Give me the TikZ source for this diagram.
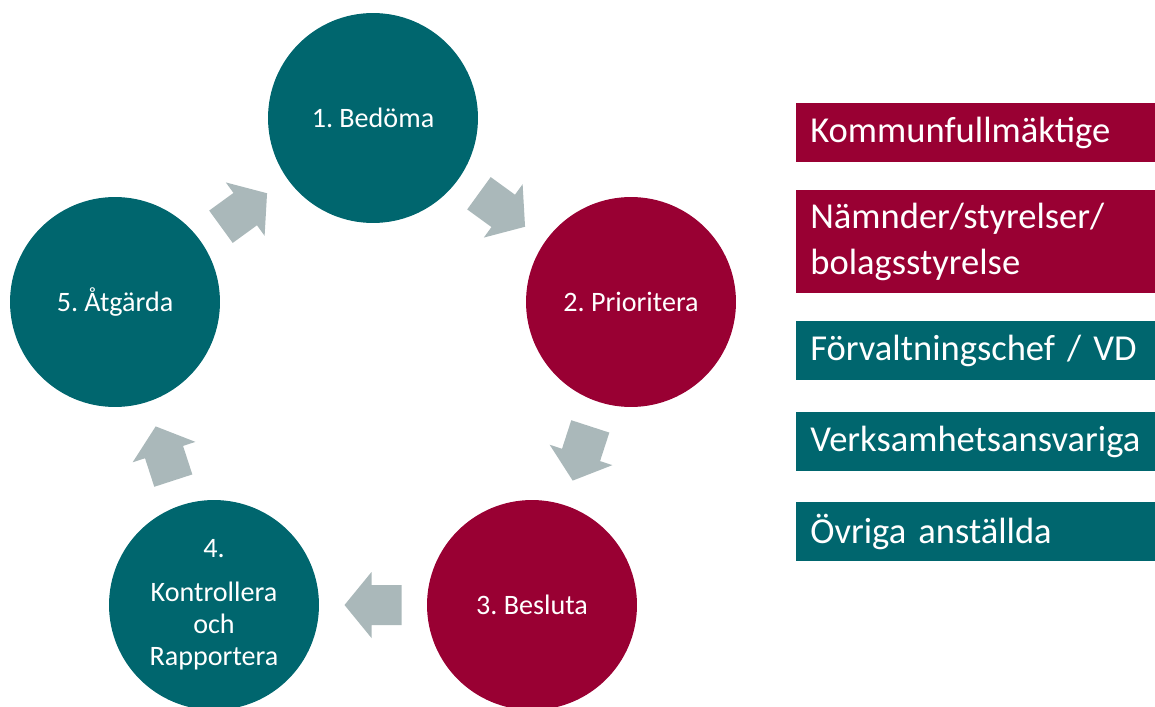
\documentclass[tikz,border=0pt]{standalone}
\usepackage{fontspec}
\setmainfont{Carlito}
\frenchspacing
\usetikzlibrary{calc}
\definecolor{petrol}{RGB}{0,102,110}
\definecolor{wine}{RGB}{153,0,51}
\definecolor{stone}{RGB}{170,184,186}
\tikzset{
  stepcircle/.style={circle,minimum size=4.2cm,inner sep=0pt,text=white,align=center,
    font=\fontsize{16}{18.2}\selectfont},
  rolebox/.style={anchor=north west,minimum width=7.18cm,minimum height=1.18cm,
    text width=6.62cm,inner xsep=0.28cm,inner ysep=0pt,text=white,align=left,
    font=\fontsize{20.8}{26.5}\selectfont},
  flowarrow/.pic={
    \fill[stone] (28.5,0) -- (1.5,33) -- (1.5,20) -- (-28.5,20) -- (-28.5,-20)
      -- (1.5,-20) -- (1.5,-33) -- cycle;
  }
}
\begin{document}
\begin{tikzpicture}[x=0.02cm,y=-0.02cm]
  \useasboundingbox (0,0) rectangle (1155,706);
  % the cycle
  \path (373,118) node[stepcircle,fill=petrol] (bedoma) {1. Bedöma};
  \path (631,302) node[stepcircle,fill=wine] (prio) {2. Prioritera};
  \path (532,605) node[stepcircle,fill=wine] (besluta) {3. Besluta};
  \path (214,605) node[stepcircle,fill=petrol] (kontroll) {4.\\[6.8pt]Kontrollera\\och\\Rapportera};
  \path (115,302) node[stepcircle,fill=petrol] (atgarda) {5. Åtgärda};
  \pic[rotate=-36] at ($(bedoma)!.5!(prio)$) {flowarrow};
  \pic[rotate=-108] at ($(prio)!.5!(besluta)$) {flowarrow};
  \pic[rotate=180] at ($(besluta)!.5!(kontroll)$) {flowarrow};
  \pic[rotate=108] at ($(kontroll)!.5!(atgarda)$) {flowarrow};
  \pic[rotate=36] at ($(atgarda)!.5!(bedoma)$) {flowarrow};
  % roles
  \path (796,103) node[rolebox,fill=wine] (kf) {Kommunfullmäktige};
  \path (796,190) node[rolebox,fill=wine,minimum height=2.06cm] (namnd) {Nämnder/styrelser/\\bolagsstyrelse};
  \path (796,321) node[rolebox,fill=petrol] (fvc) {Förvaltningschef / VD};
  \path (796,412) node[rolebox,fill=petrol] (verks) {Verksamhetsansvariga};
  \path (796,502) node[rolebox,fill=petrol] (ovriga) {Övriga anställda};
\end{tikzpicture}
\end{document}
